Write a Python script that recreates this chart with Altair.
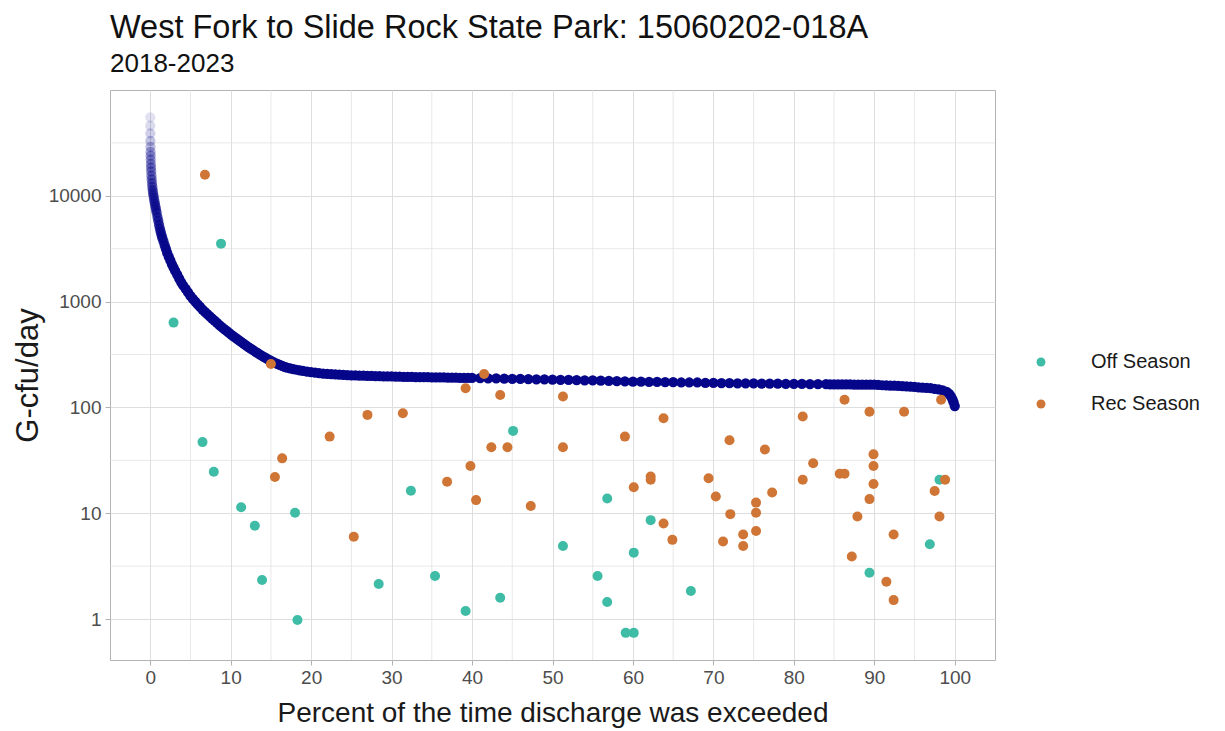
import altair as alt
import pandas as pd

# ---- flow duration curve ----
curve_pct = [0.00, 0.00, 0.01, 0.02, 0.03, 0.04, 0.05, 0.06, 0.08, 0.10, 0.12, 0.15, 0.18, 0.22, 0.26,
             0.30, 0.35, 0.40, 0.46, 0.52, 0.58, 0.65, 0.72, 0.80, 0.90, 1.00, 1.10, 1.20, 1.30, 1.40,
             1.50, 1.65, 1.80, 1.95, 2.10, 2.30, 2.50, 2.70, 2.90, 3.10, 3.35, 3.60, 3.85, 4.10, 4.40,
             4.70, 5.00, 5.30, 5.60, 5.90, 6.20, 6.50, 6.80, 7.10, 7.40, 7.70, 8.00, 8.30, 8.60, 8.90,
             9.20, 9.50, 9.80, 10.1, 10.4, 10.7, 11.0, 11.3, 11.6, 11.9, 12.2, 12.5, 12.8, 13.1, 13.4,
             13.7, 14.0, 14.3, 14.6, 14.9, 15.2, 15.5, 15.8, 16.1, 16.4, 16.7, 17.0, 17.4, 17.8, 18.2,
             18.6, 19.0, 19.5, 20.0, 20.5, 21.0, 21.5, 22.0, 22.5, 23.0, 23.5, 24.0, 24.5, 25.0, 25.5,
             26.0, 26.5, 27.0, 27.5, 28.0, 28.5, 29.0, 29.5, 30.0, 30.5, 31.0, 31.5, 32.0, 32.5, 33.0,
             33.5, 34.0, 34.5, 35.0, 35.5, 36.0, 36.5, 37.0, 37.5, 38.0, 38.5, 39.0, 39.5, 40.0, 41.0,
             42.0, 43.0, 44.0, 45.0, 46.0, 47.0, 48.0, 49.0, 50.0, 51.0, 52.0, 53.0, 54.0, 55.0, 56.0,
             57.0, 58.0, 59.0, 60.0, 61.0, 62.0, 63.0, 64.0, 65.0, 66.0, 67.0, 68.0, 69.0, 70.0, 71.0,
             72.0, 73.0, 74.0, 75.0, 76.0, 77.0, 78.0, 79.0, 80.0, 81.0, 82.0, 83.0, 84.0, 84.5, 85.0,
             85.5, 86.0, 86.5, 87.0, 87.5, 88.0, 88.5, 89.0, 89.5, 90.0, 90.5, 91.0, 91.5, 92.0, 92.5,
             93.0, 93.5, 94.0, 94.5, 95.0, 95.5, 96.0, 96.5, 97.0, 97.5, 98.0, 98.5, 99.0, 99.3, 99.5,
             99.7, 99.85, 100.0]
curve_val = [55000, 46000, 39000, 33000, 29000, 26000, 24000, 22000, 20000, 18500, 17000, 15500, 14300, 13200, 12200,
             11400, 10700, 10100, 9500, 8900, 8400, 7900, 7400, 6900, 6300, 5800, 5300, 4900, 4550, 4250,
             4000, 3700, 3400, 3150, 2900, 2650, 2450, 2250, 2100, 1950, 1800, 1650, 1520, 1420, 1320,
             1220, 1130, 1060, 1000, 940, 890, 840, 800, 760, 725, 690, 660, 630, 600, 575,
             550, 528, 506, 486, 467, 449, 432, 416, 400, 386, 372, 359, 347, 335, 324,
             314, 304, 295, 286, 278, 271, 264, 258, 252, 247, 242, 238, 234, 230, 227,
             224, 221, 218, 215, 213, 211, 209, 207.5, 206, 205, 204, 203, 202, 201, 200.5,
             200, 199.5, 199, 198.5, 198, 197.5, 197, 196.5, 196, 195.5, 195, 194.5, 194, 194, 193.5,
             193.5, 193, 193, 192.5, 192.5, 192, 192, 191.5, 191.5, 191, 190.5, 190.5, 190, 190, 189,
             188, 188, 187, 186, 186, 185, 184, 184, 183, 182, 182, 181, 180, 180, 179,
             178, 177, 176, 175, 175, 174, 174, 173, 173, 172, 172, 172, 171, 171, 170,
             170, 169, 169, 169, 168, 168, 168, 167, 167, 167, 166, 166, 166, 165.5, 165.5,
             165, 165, 165, 165, 164.5, 164.5, 164, 164, 164, 164, 163, 162, 161.5, 161, 160.5,
             160, 159, 158, 157, 156, 155, 154, 153, 152, 150, 148, 145, 140, 134, 128,
             120, 112, 103]

# ---- observed loads ----
off_pct = [2.9, 8.8, 6.5, 7.9, 11.3, 13.0, 13.9, 18.0, 18.3, 28.4, 32.4, 35.4, 39.2, 43.5,
           45.1, 51.3, 55.6, 56.8, 56.8, 59.1, 60.1, 60.1, 62.2, 67.2, 89.4, 96.9, 98.1]
off_val = [633, 3530, 47, 24.7, 11.4, 7.6, 2.34, 10.1, 0.98, 2.14, 16.3, 2.55, 1.19, 1.59,
           60, 4.9, 2.55, 13.8, 1.45, 0.74, 0.74, 4.24, 8.6, 1.84, 2.74, 5.1, 20.7]

rec_pct = [6.8, 15.0, 15.5, 16.4, 22.3, 25.3, 27.0, 31.4, 36.9, 39.2, 39.8, 40.5, 41.5, 42.4,
           43.5, 44.4, 47.3, 51.3, 51.3, 59.0, 60.1, 62.2, 62.2, 63.8, 63.8, 64.9, 69.4, 70.3,
           71.2, 72.0, 72.1, 73.7, 73.7, 75.3, 75.3, 75.3, 76.4, 77.3, 81.1, 81.1, 82.4, 85.7,
           86.3, 86.3, 87.2, 87.9, 89.4, 89.4, 89.9, 89.9, 89.9, 91.5, 92.4, 92.4, 93.7, 97.5,
           98.1, 98.3, 98.8]
rec_val = [15800, 257, 22, 33, 53, 6.0, 85, 88, 19.8, 152, 28, 13.3, 207, 42,
           131, 42, 11.7, 127, 42, 53, 17.6, 22.2, 20.7, 79, 8.0, 5.6, 21.4, 14.4,
           5.4, 49, 9.8, 6.3, 4.9, 12.6, 10.1, 6.8, 40, 15.7, 82, 20.7, 29.7, 23.6,
           23.6, 118, 3.9, 9.3, 91, 13.6, 36, 28, 18.9, 2.25, 6.3, 1.51, 91, 16.2,
           9.3, 118, 20.7]

seasons = ["Off Season", "Rec Season"]
season_colors = ["#3fbca5", "#cf7536"]

x_major = [0, 10, 20, 30, 40, 50, 60, 70, 80, 90, 100]
x_minor = [5, 15, 25, 35, 45, 55, 65, 75, 85, 95]
y_major = [1, 10, 100, 1000, 10000]
y_minor = [3.1623, 31.623, 316.23, 3162.3, 31623]

FONT = "Liberation Sans"
GRID = "#dedede"

curve_df = pd.DataFrame({"pct": curve_pct, "val": curve_val})
obs_df = pd.DataFrame({
    "pct": off_pct + rec_pct,
    "val": off_val + rec_val,
    "season": [seasons[0]] * len(off_pct) + [seasons[1]] * len(rec_pct),
})

xscale = alt.Scale(domain=[-5, 105], nice=False, zero=False)
yscale = alt.Scale(type="log", domain=[0.41, 100000], nice=False)

xaxis = alt.Axis(values=x_major, title="Percent of the time discharge was exceeded",
                 grid=True, gridColor=GRID, gridWidth=1, domain=False,
                 tickColor="#b3b3b3", tickSize=5, labelFontSize=19, labelColor="#4d4d4d",
                 labelFont=FONT, labelPadding=3, titleFont=FONT, titleFontSize=28,
                 titleFontWeight="normal", titleColor="#1a1a1a", titlePadding=12)
yaxis = alt.Axis(values=y_major, format="d", title="G-cfu/day",
                 grid=True, gridColor=GRID, gridWidth=1, domain=False,
                 tickColor="#b3b3b3", tickSize=5, labelFontSize=19, labelColor="#4d4d4d",
                 labelFont=FONT, labelPadding=4, titleFont=FONT, titleFontSize=31,
                 titleFontWeight="normal", titleColor="#1a1a1a", titlePadding=4)

minor_x = alt.Chart(pd.DataFrame({"m": x_minor})).mark_rule(color=GRID, strokeWidth=0.7).encode(
    x=alt.X("m:Q", scale=xscale, axis=xaxis))
minor_y = alt.Chart(pd.DataFrame({"m": y_minor})).mark_rule(color=GRID, strokeWidth=0.7).encode(
    y=alt.Y("m:Q", scale=yscale, axis=yaxis))

curve = alt.Chart(curve_df).mark_circle(size=105, color="#06068a").encode(
    x=alt.X("pct:Q", scale=xscale, axis=xaxis),
    y=alt.Y("val:Q", scale=yscale, axis=yaxis),
    opacity=alt.Opacity("val:Q", scale=alt.Scale(type="log", domain=[2500, 50000],
                                                 range=[1, 0.12], clamp=True), legend=None),
)

obs = alt.Chart(obs_df).mark_circle(size=100, opacity=1).encode(
    x=alt.X("pct:Q", scale=xscale, axis=xaxis),
    y=alt.Y("val:Q", scale=yscale, axis=yaxis),
    color=alt.Color("season:N", scale=alt.Scale(domain=seasons, range=season_colors),
                    legend=alt.Legend(title=None, orient="none", legendX=921, legendY=262,
                                      symbolType="circle", symbolSize=80, symbolOpacity=1,
                                      labelFontSize=20, labelFont=FONT, labelColor="#1a1a1a",
                                      labelOffset=40, rowPadding=22, padding=0)),
)

chart = alt.layer(minor_x, minor_y, curve, obs).properties(
    width=885, height=570,
    autosize=alt.AutoSizeParams(type="none"),
    padding={"left": 102, "top": 82, "right": 220, "bottom": 70},
    title=alt.TitleParams(text="West Fork to Slide Rock State Park: 15060202-018A",
                          subtitle="2018-2023", anchor="start", frame="group",
                          font=FONT, fontSize=32.5, fontWeight="normal", color="#111111",
                          subtitleFont=FONT, subtitleFontSize=26, subtitleColor="#111111",
                          subtitlePadding=6, offset=13),
).configure_view(stroke="#b3b3b3", strokeWidth=1)

chart.save("out.html", embed_options={"renderer": "svg", "actions": False})
